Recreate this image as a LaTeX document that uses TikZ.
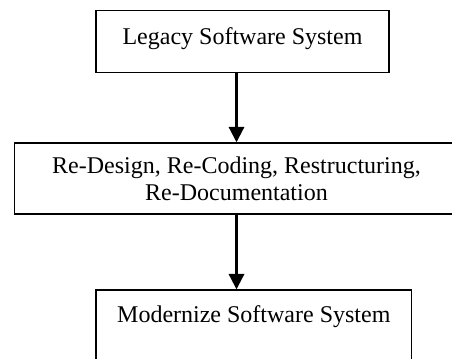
\documentclass[tikz,border=0pt]{standalone}
\usepackage{fontspec}
\setmainfont{Liberation Serif}
\usetikzlibrary{arrows.meta}

\begin{document}
\begin{tikzpicture}[x=0.75pt,y=-0.75pt,
  box/.style={draw, line width=1.1pt, inner sep=0pt, align=center, font=\fontsize{18}{20}\selectfont},
  arr/.style={-{Triangle[length=11.5pt,width=11.5pt]}, line width=1.6pt}]
\useasboundingbox (0,0) rectangle (452,358);
\node[box, minimum width=219.75pt, text height=25pt, text depth=21.5pt] (legacy) at (242.5,41.7) {Legacy Software System};
\node[box, minimum width=333pt, minimum height=53.25pt] (redesign) at (236.5,178.5) {Re-Design, Re-Coding, Restructuring,\\Re-Documentation};
\node[box, minimum width=236.8pt, text height=24.5pt, text depth=31.7pt] (modern) at (253.8,327.5) {Modernize Software System};
\draw[arr] (legacy.south -| redesign.center) -- (redesign.north);
\draw[arr] (redesign.south) -- (redesign.south |- modern.north);
\end{tikzpicture}
\end{document}
